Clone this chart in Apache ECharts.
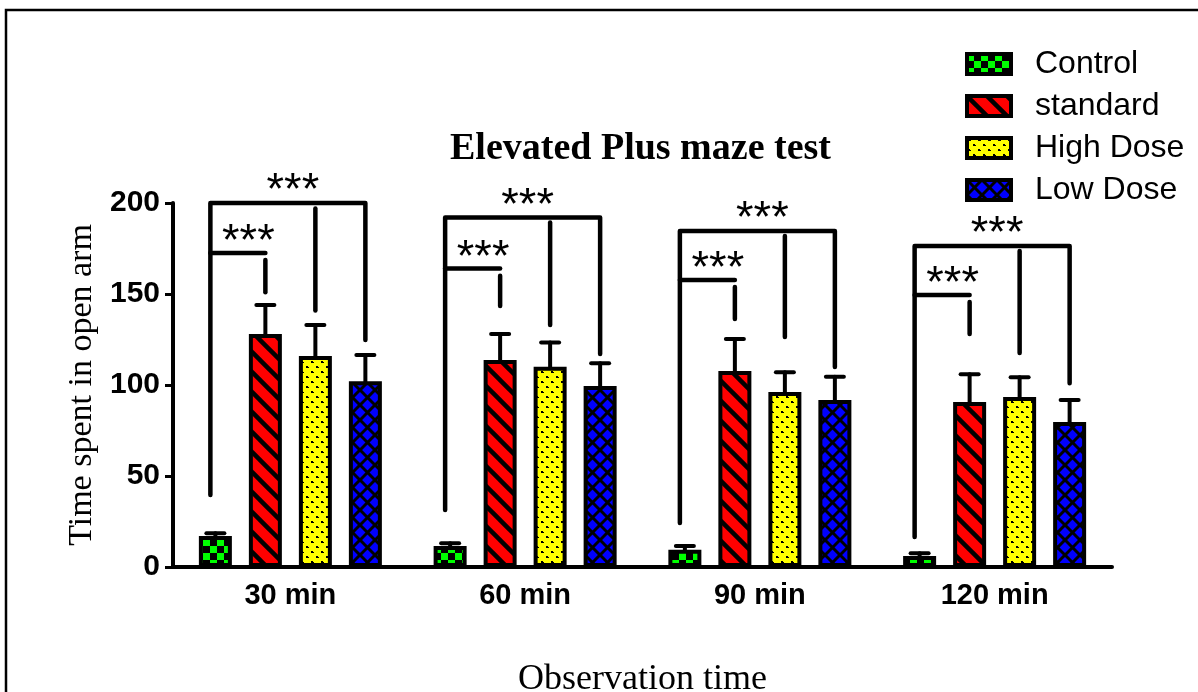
<!DOCTYPE html>
<html><head><meta charset="utf-8">
<script src="https://cdn.jsdelivr.net/npm/echarts@6/dist/echarts.min.js"></script>
<style>html,body{margin:0;padding:0;background:#fff}#c{width:1198px;height:692px}</style>
</head><body><div id="c"></div>
<script>
// ---------------- data ----------------
const categories = ['30 min', '60 min', '90 min', '120 min'];
const seriesNames = ['Control', 'standard', 'High Dose', 'Low Dose'];
const controlMean = [17, 11.5, 9.5, 6];
const controlErr = [1.5, 1.5, 2, 1.5];
const standardMean = [128, 113.7, 107.7, 90.7];
const standardErr = [16, 14.3, 17.6, 15.2];
const highMean = [116, 110, 96.2, 93.4];
const highErr = [17, 13.3, 10.8, 10.8];
const lowMean = [102, 99.5, 91.8, 79.7];
const lowErr = [14.5, 12.5, 12.8, 12.1];
const yMin = 0, yMax = 200, yStep = 50;
// significance brackets (y values in data units)
const outerLevel = [200, 192, 184.6, 176.4];
const innerLevel = [172.5, 164, 157.7, 149.5];
const controlLegEnd = [39.5, 31.3, 24.2, 16.5];
const standardLegTop = [168.7, 160, 153.8, 145.6];
const standardLegEnd = [151, 143.4, 136.3, 128];
const highLegTop = [197, 189.3, 181.9, 173.6];
const highLegEnd = [141, 133, 126.4, 117.6];
const lowLegEnd = [124.7, 117, 109.9, 101];
const sigText = '***';
const titleText = 'Elevated Plus maze test';
const yName = 'Time spent in open arm';
const xName = 'Observation time';

// ---------------- style ----------------
const SANS = 'Liberation Sans, Arial, sans-serif';
const SERIF = 'Liberation Serif, Times New Roman, serif';
const BAR_W = 33, BORDER = 4, PITCH = 50;
const BAR_GAP = ((PITCH - BAR_W) / BAR_W * 100).toFixed(2) + '%';

function tile(w, h, draw) {
  const c = document.createElement('canvas');
  c.width = w; c.height = h;
  draw(c.getContext('2d'), w, h);
  return c;
}
const patControl = tile(14, 14, (g) => {
  g.fillStyle = '#000'; g.fillRect(0, 0, 14, 14);
  g.fillStyle = '#00ff00'; g.fillRect(0, 0, 7, 7); g.fillRect(7, 7, 7, 7);
});
const patStandard = tile(20, 20, (g) => {
  g.fillStyle = '#ff0000'; g.fillRect(0, 0, 20, 20);
  g.strokeStyle = '#000'; g.lineWidth = 4.5;
  for (const k of [-20, 0, 20]) { g.beginPath(); g.moveTo(k - 5, -5); g.lineTo(k + 25, 25); g.stroke(); }
});
const patHigh = tile(10, 10, (g) => {
  g.fillStyle = '#ffff00'; g.fillRect(0, 0, 10, 10);
  g.fillStyle = '#000';
  g.fillRect(1, 1, 2, 2); g.fillRect(6, 6, 2, 2); g.fillRect(3, 2, 1, 1); g.fillRect(8, 7, 1, 1);
});
const patLow = tile(15, 15, (g) => {
  g.fillStyle = '#0000ff'; g.fillRect(0, 0, 15, 15);
  g.strokeStyle = '#000'; g.lineWidth = 3;
  for (const k of [-15, 0, 15]) {
    g.beginPath(); g.moveTo(k - 2, -2); g.lineTo(k + 17, 17); g.stroke();
    g.beginPath(); g.moveTo(k + 17, -2); g.lineTo(k - 2, 17); g.stroke();
  }
});
const patterns = [patControl, patStandard, patHigh, patLow];
const means = [controlMean, standardMean, highMean, lowMean];
const errs = [controlErr, standardErr, highErr, lowErr];

const barSeries = seriesNames.map((name, s) => ({
  name, type: 'bar', data: means[s], barWidth: BAR_W, barGap: BAR_GAP,
  itemStyle: { color: { image: patterns[s], repeat: 'repeat' }, borderColor: '#000', borderWidth: BORDER },
  emphasis: { disabled: true }, z: 2
}));

const errData = [];
for (let s = 0; s < 4; s++) for (let c = 0; c < categories.length; c++) errData.push([c, s, means[s][c], errs[s][c]]);

const bracketData = categories.map((_, c) => [c, outerLevel[c], innerLevel[c], controlLegEnd[c], standardLegTop[c], standardLegEnd[c], highLegTop[c], highLegEnd[c], lowLegEnd[c]]);

const chart = echarts.init(document.getElementById('c'), null, { renderer: 'canvas' });
chart.setOption({
  animation: false,
  backgroundColor: '#fff',
  graphic: [{ type: 'rect', shape: { x: 6, y: 10, width: 1400, height: 900 }, style: { fill: 'none', stroke: '#000', lineWidth: 2.5 }, silent: true }],
  title: { text: titleText, left: 450, top: 130, padding: 0, textStyle: { fontFamily: SERIF, fontWeight: 'bold', fontSize: 38, color: '#000' } },
  legend: {
    data: seriesNames, orient: 'vertical', left: 965, top: 48, padding: 0, itemWidth: 44, itemHeight: 20, itemGap: 10,
    icon: 'rect', selectedMode: false,
    itemStyle: { borderColor: '#000', borderWidth: 4 },
    textStyle: { fontFamily: SANS, fontSize: 32, color: '#000', lineHeight: 32, padding: [0, 0, 0, 19] }
  },
  grid: { left: 173, right: 86, top: 203, bottom: 125, outerBoundsMode: 'none', containLabel: false },
  xAxis: {
    type: 'category', data: categories,
    name: xName, nameLocation: 'middle', nameGap: 95,
    nameTextStyle: { fontFamily: SERIF, fontSize: 36, color: '#000' },
    axisLine: { lineStyle: { color: '#000', width: 4 } },
    axisTick: { alignWithLabel: true, length: 8, lineStyle: { color: '#000', width: 3 } },
    axisLabel: { fontFamily: SANS, fontWeight: 'bold', fontSize: 29, color: '#000', margin: 14 }
  },
  yAxis: {
    type: 'value', min: yMin, max: yMax, interval: yStep,
    name: yName, nameLocation: 'middle', nameGap: 72,
    nameTextStyle: { fontFamily: SERIF, fontSize: 34, color: '#000' },
    splitLine: { show: false },
    axisLine: { show: true, lineStyle: { color: '#000', width: 4 } },
    axisTick: { show: true, length: 8, lineStyle: { color: '#000', width: 3 } },
    axisLabel: { fontFamily: SANS, fontWeight: 'bold', fontSize: 30, color: '#000', margin: 13 }
  },
  series: [
    ...barSeries,
    {
      type: 'custom', name: 'err', data: errData, encode: { x: 0, y: 2 }, z: 3, silent: true, clip: false,
      renderItem(params, api) {
        const c = api.value(0), s = api.value(1), m = api.value(2), e = api.value(3);
        const p0 = api.coord([c, m]), p1 = api.coord([c, m + e]);
        const x = p0[0] + (s - 1.5) * PITCH;
        const st = { stroke: '#000', lineWidth: 4, lineCap: 'round' };
        return { type: 'group', children: [
          { type: 'line', shape: { x1: x, y1: p0[1], x2: x, y2: p1[1] }, style: st },
          { type: 'line', shape: { x1: x - 9, y1: p1[1], x2: x + 9, y2: p1[1] }, style: st }
        ] };
      }
    },
    {
      type: 'custom', name: 'sig', data: bracketData, encode: { x: 0, y: 1 }, z: 4, silent: true, clip: false,
      renderItem(params, api) {
        const c = api.value(0);
        const cx = api.coord([c, 0])[0];
        const xOf = (i) => cx + (i - 1.5) * PITCH;
        const y = (v) => api.coord([c, v])[1];
        const oL = api.value(1), iL = api.value(2), cE = api.value(3), sT = api.value(4), sE = api.value(5),
              hT = api.value(6), hE = api.value(7), lE = api.value(8);
        const xl = xOf(0) - 5;
        const ls = { stroke: '#000', lineWidth: 4.5, lineCap: 'round', lineJoin: 'round', fill: 'none' };
        const ts = { fill: '#000', font: '45px ' + SANS, align: 'center', verticalAlign: 'middle' };
        return { type: 'group', children: [
          { type: 'polyline', shape: { points: [[xl, y(cE)], [xl, y(oL)], [xOf(3), y(oL)], [xOf(3), y(lE)]] }, style: ls },
          { type: 'polyline', shape: { points: [[xl, y(iL)], [xOf(1), y(iL)]] }, style: ls },
          { type: 'line', shape: { x1: xOf(1), y1: y(sT), x2: xOf(1), y2: y(sE) }, style: ls },
          { type: 'line', shape: { x1: xOf(2), y1: y(hT), x2: xOf(2), y2: y(hE) }, style: ls },
          { type: 'text', style: Object.assign({ text: sigText, x: xOf(0.66), y: y(iL) - 10 }, ts) },
          { type: 'text', style: Object.assign({ text: sigText, x: xOf(1.55), y: y(oL) - 11 }, ts) }
        ] };
      }
    }
  ]
});
</script></body></html>
